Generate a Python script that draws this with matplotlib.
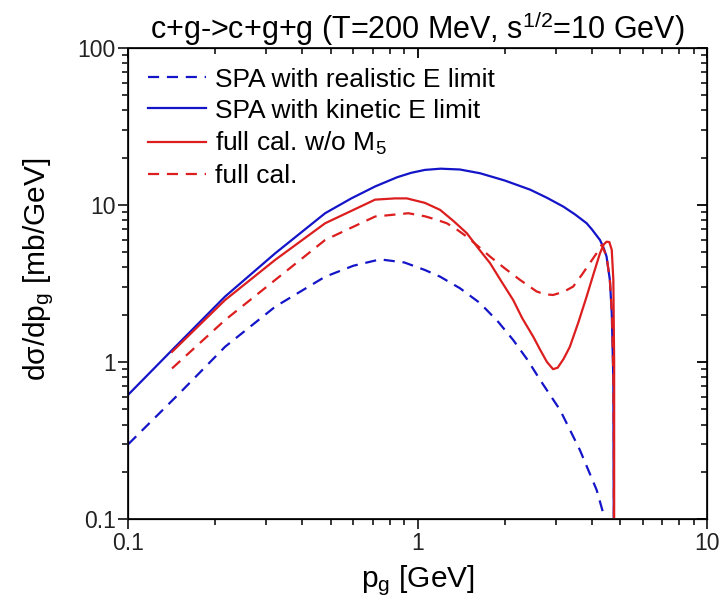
import numpy as np
import matplotlib
matplotlib.use('Agg')
import matplotlib.pyplot as plt

plt.rcParams['font.family'] = ['Liberation Sans', 'DejaVu Sans']
plt.rcParams['mathtext.fontset'] = 'custom'
plt.rcParams['mathtext.rm'] = 'Liberation Sans'
plt.rcParams['mathtext.it'] = 'Liberation Sans'

# SPA with kinetic E limit (blue solid)
x_kin = [0.1, 0.1416, 0.216, 0.322, 0.479, 0.59, 0.713, 0.85, 0.95, 1.06, 1.2, 1.4, 1.644,
         2.0, 2.45, 2.8, 3.19, 3.5, 3.84, 4.0, 4.27, 4.4, 4.5, 4.62, 4.69, 4.75, 4.77]
y_kin = [0.62, 1.19, 2.61, 4.92, 8.85, 11.0, 13.1, 15.0, 16.0, 16.7, 17.0, 16.8, 15.9,
         14.3, 12.5, 11.1, 9.75, 8.7, 7.64, 7.0, 5.98, 5.3, 4.69, 3.33, 2.05, 0.77, 0.05]

# SPA with realistic E limit (blue dashed)
x_real = [0.1, 0.15, 0.216, 0.322, 0.479, 0.6, 0.742, 0.9, 1.06, 1.197, 1.4, 1.644, 1.9,
          2.14, 2.4, 2.65, 3.11, 3.64, 4.16, 4.44, 4.6]
y_real = [0.30, 0.63, 1.25, 2.25, 3.49, 4.1, 4.5, 4.3, 3.85, 3.49, 2.95, 2.37, 1.8,
          1.38, 1.03, 0.77, 0.494, 0.275, 0.153, 0.1, 0.07]

# full cal. w/o M5 (red solid)
x_nom5 = [0.1416, 0.216, 0.322, 0.479, 0.713, 0.836, 0.918, 1.06, 1.197, 1.33, 1.479, 1.62,
          1.78, 1.95, 2.14, 2.3, 2.51, 2.65, 2.8, 2.94, 3.05, 3.2, 3.36, 3.6, 3.84, 4.05,
          4.27, 4.4, 4.5, 4.6, 4.69, 4.75, 4.78, 4.78]
y_nom5 = [1.16, 2.48, 4.47, 7.64, 10.8, 11.0, 11.0, 10.3, 9.29, 7.9, 6.61, 5.3,
          4.26, 3.25, 2.48, 1.9, 1.45, 1.2, 1.0, 0.9, 0.92, 1.05, 1.25, 1.8, 2.61, 3.6,
          4.92, 5.6, 5.83, 5.8, 5.17, 3.33, 1.0, 0.05]

# full cal. (red dashed)
x_full = [0.1416, 0.216, 0.322, 0.479, 0.713, 0.929, 1.06, 1.15, 1.262, 1.37, 1.479, 1.62,
          1.78, 2.0, 2.26, 2.58, 2.75, 2.94, 3.2, 3.45, 3.7, 3.94, 4.15, 4.33, 4.5, 4.62,
          4.7, 4.75, 4.77, 4.77]
y_full = [0.91, 1.85, 3.33, 5.98, 8.43, 8.85, 8.46, 8.1, 7.64, 6.95, 6.28, 5.45,
          4.69, 3.95, 3.33, 2.81, 2.7, 2.67, 2.8, 3.02, 3.6, 4.26, 4.9, 5.56, 4.7, 3.33,
          2.0, 0.8, 0.3, 0.05]

blue = '#1414c8'
red = '#dc1e1e'

fig = plt.figure(figsize=(7.25, 6.05), dpi=100)
ax = fig.add_axes([0.177, 0.142, 0.798, 0.779])

ax.plot(x_real, y_real, color=blue, lw=1.6, ls=(0, (5, 3.5)), label='SPA with realistic E limit')
ax.plot(x_kin, y_kin, color=blue, lw=1.6, label='SPA with kinetic E limit')
ax.plot(x_nom5, y_nom5, color=red, lw=1.6, label='full cal. w/o M$_5$')
ax.plot(x_full, y_full, color=red, lw=1.6, ls=(0, (5, 3.5)), label='full cal.')

ax.set_xscale('log')
ax.set_yscale('log')
ax.set_xlim(0.1, 10)
ax.set_ylim(0.1, 100)
ax.set_xticks([0.1, 1, 10])
ax.set_xticklabels(['0.1', '1', '10'])
ax.set_yticks([0.1, 1, 10, 100])
ax.set_yticklabels(['0.1', '1', '10', '100'])
ax.tick_params(which='major', direction='out', length=7, width=1.3, labelsize=16.5,
               colors='#222222', pad=2)
ax.tick_params(which='minor', direction='out', length=4, width=1.1)
for s in ax.spines.values():
    s.set_linewidth(1.4)
    s.set_color('#222222')

# mirror ticks pointing inward on top/right
axt = ax.twiny()
axt.set_xscale('log')
axt.set_xlim(0.1, 10)
axt.tick_params(which='both', direction='in', labeltop=False)
axt.tick_params(which='major', length=7, width=1.3)
axt.tick_params(which='minor', length=4, width=1.1)
axr = ax.twinx()
axr.set_yscale('log')
axr.set_ylim(0.1, 100)
axr.tick_params(which='both', direction='in', labelright=False)
axr.tick_params(which='major', length=7, width=1.3)
axr.tick_params(which='minor', length=4, width=1.1)

ax.set_xlabel('p$_\\mathregular{g}$ [GeV]', fontsize=21.5, labelpad=6)
ax.set_ylabel('d\u03c3/dp$_\\mathregular{g}$ [mb/GeV]', fontsize=21.5)
ax.yaxis.set_label_coords(-0.125, 0.53)
ax.set_title('c+g->c+g+g (T=200 MeV, s$^\\mathregular{1/2}$=10 GeV)', fontsize=22, pad=6)

ax.legend(loc='upper left', frameon=False, fontsize=19, handlelength=2.2, handletextpad=0.35,
          labelspacing=0.27, borderaxespad=0.5, borderpad=0.25)

fig.savefig('out.png', dpi=100)
